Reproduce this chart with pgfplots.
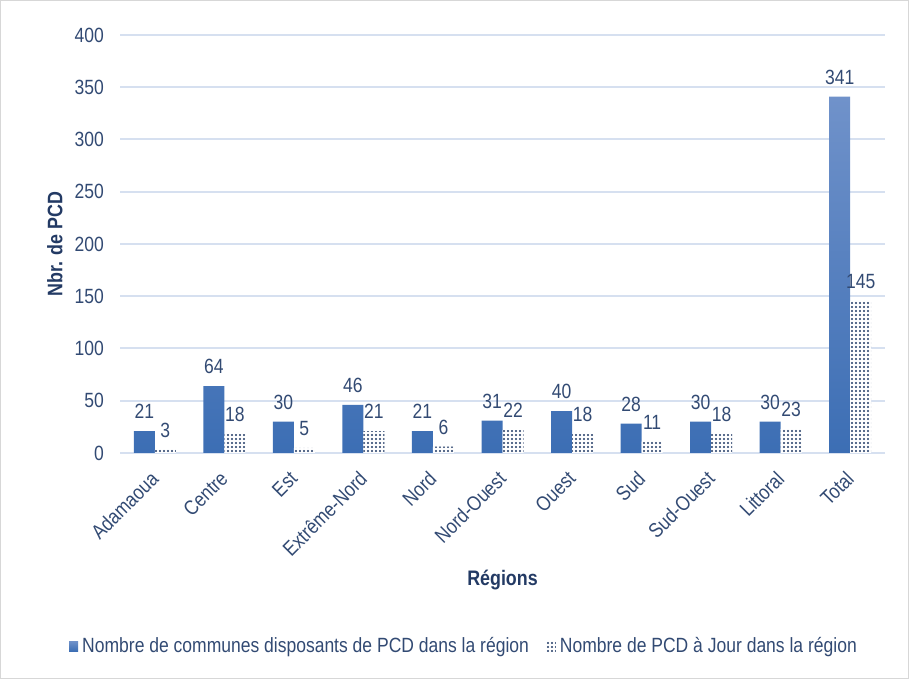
\documentclass[border=0pt]{standalone}
\usepackage{fontspec}
\setmainfont[FakeStretch=0.85]{Liberation Sans}
\usepackage{pgfplots}
\pgfplotsset{compat=1.18}
\usetikzlibrary{patterns.meta}
\definecolor{txt}{RGB}{50,74,115}
\definecolor{lab}{RGB}{35,58,100}
\definecolor{gridc}{RGB}{214,224,240}
\definecolor{btop}{RGB}{112,146,202}
\definecolor{bbot}{RGB}{60,110,180}
\definecolor{dotc}{RGB}{31,56,100}
\definecolor{frame}{RGB}{215,215,215}
\begin{document}
\begin{tikzpicture}
\draw[frame, line width=0.6pt] (0.3pt,0.3pt) rectangle (454.2pt,339.2pt);
\begin{axis}[
  at={(60pt,113pt)}, anchor=south west,
  scale only axis, width=382.5pt, height=209pt,
  ybar=0pt, bar width=10.5pt,
  xmin=-0.5, xmax=10.5, ymin=0, ymax=400,
  enlarge x limits=false,
  xtick={0,...,10},
  xticklabels={Adamaoua,Centre,Est,Extrême-Nord,Nord,Nord-Ouest,Ouest,Sud,Sud-Ouest,Littoral,Total},
  xticklabel style={rotate=45, anchor=east, inner sep=0pt, font=\fontsize{10.3}{11}\selectfont, text=txt},
  xticklabel shift=11pt,
  ytick={0,50,...,400},
  yticklabel style={font=\fontsize{10.3}{11}\selectfont, text=txt, xshift=-4.5pt},
  /pgf/number format/assume math mode=true,
  major tick length=0pt,
  axis line style={draw=none},
  ymajorgrids, grid style={gridc, line width=1pt},
  xlabel={\textbf{Régions}},
  xlabel style={font=\fontsize{10.5}{12}\selectfont, text=lab, at={(axis description cs:0.5,-0.304)}, anchor=center},
  ylabel={\textbf{Nbr. de PCD}},
  ylabel style={font=\fontsize{10.5}{12}\selectfont, text=lab, at={(axis description cs:-0.085,0.5)}, anchor=center},
  nodes near coords,
  nodes near coords style={font=\fontsize{10.3}{11}\selectfont, text=txt, inner sep=2pt, yshift=4pt},
  legend style={at={(0.451,-0.462)}, anchor=center, draw=none, fill=none,
    legend columns=2, font=\fontsize{10.3}{11}\selectfont, text=txt,
    /tikz/every even column/.append style={column sep=7pt}},
  legend image code/.code={\draw[#1, draw=none] (0pt,-2.5pt) rectangle (4.5pt,2.5pt);},
]
\addplot[draw=none, top color=btop, bottom color=bbot] coordinates {
(0,21) (1,64) (2,30) (3,46) (4,21) (5,31) (6,40) (7,28) (8,30) (9,30) (10,341)};
\addplot[draw=none, fill=white, postaction={pattern={Dots[distance=2pt, radius=0.55pt]}, pattern color=dotc}] coordinates {
(0,3) (1,18) (2,5) (3,21) (4,6) (5,22) (6,18) (7,11) (8,18) (9,23) (10,145)};
\legend{Nombre de communes disposants de PCD dans la région, Nombre de PCD à Jour dans la région}
\end{axis}
\end{tikzpicture}
\end{document}
